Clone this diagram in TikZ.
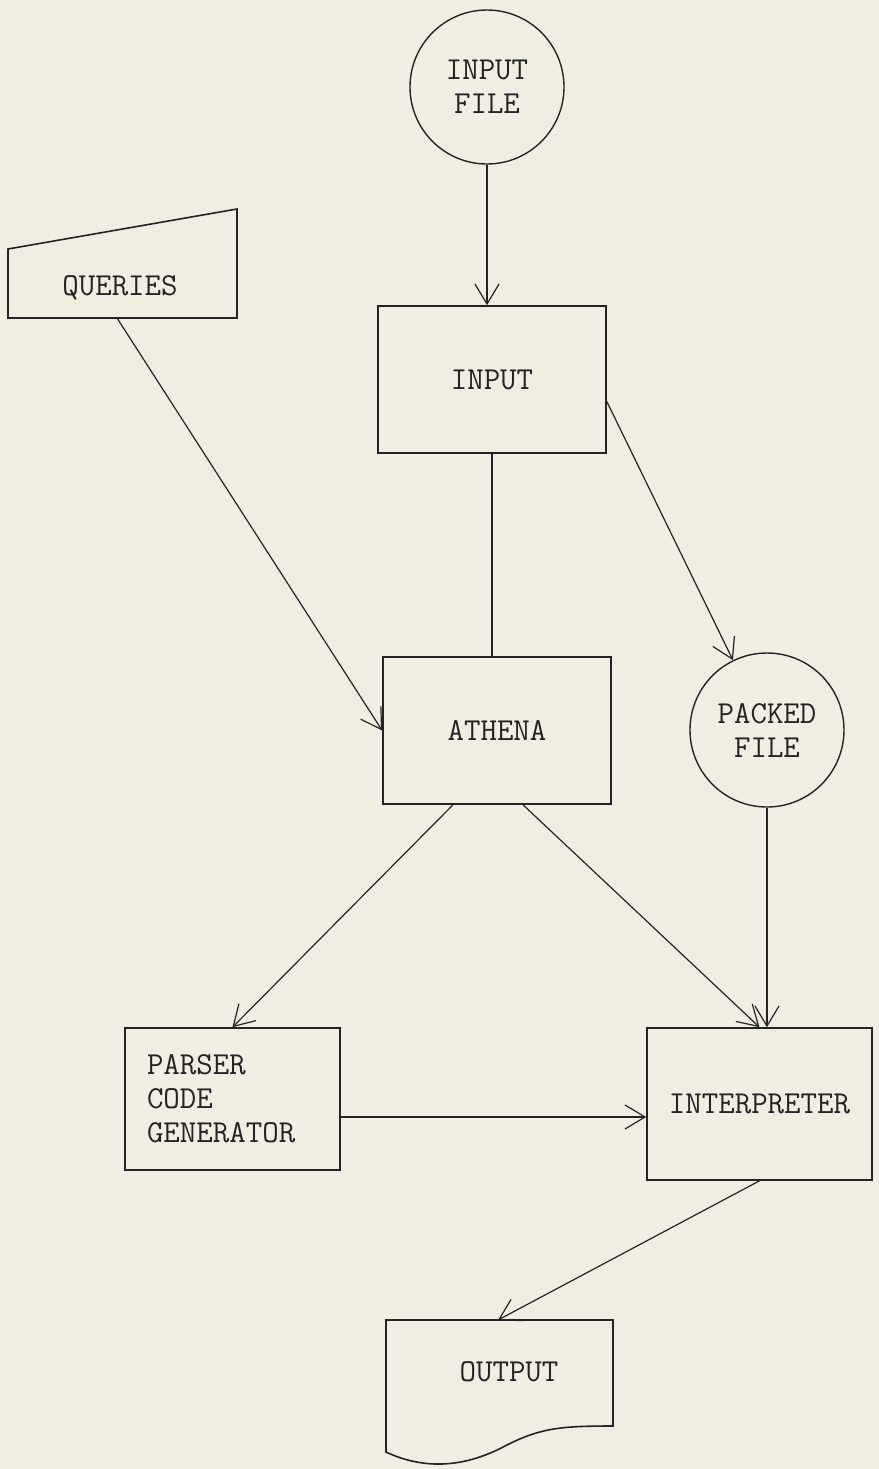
\documentclass[tikz,border=0pt]{standalone}
\usetikzlibrary{arrows.meta}
\definecolor{paper}{RGB}{240,238,225}
\definecolor{ink}{RGB}{35,35,35}
\begin{document}
\begin{tikzpicture}[x=0.5pt, y=-0.5pt,
    txt/.style={font=\fontsize{16}{17}\selectfont\ttfamily, text=ink},
    box/.style={txt, draw=ink, line width=0.8pt, inner sep=0pt},
    disk/.style={txt, draw=ink, circle, line width=0.7pt, minimum size=77pt, align=center, inner sep=0pt},
    arr/.style={draw=ink, -{Straight Barb[length=10pt, width=12pt]}, line width=0.6pt}]
      \fill[paper] (0,0) rectangle (879,1469);
      \useasboundingbox (0,0) rectangle (879,1469);
      % files
      \node[disk] (infile) at (487, 87) {INPUT\\FILE};
      \node[disk] (packed) at (767, 730) {PACKED\\FILE};
      % boxes
      \node[box, minimum width=114pt, minimum height=73.5pt] (input) at (492, 379.5) {INPUT};
      \node[box, minimum width=114pt, minimum height=73.5pt] (athena) at (497, 730.5) {ATHENA};
      \node[box, minimum width=107.5pt, minimum height=71pt, align=left, text width=85.5pt, inner xsep=11pt] (parser) at (232.5, 1099) {PARSER\\CODE\\GENERATOR};
      \node[box, minimum width=112.5pt, minimum height=76pt] (interp) at (759.5, 1104) {INTERPRETER};
      % queries and output
      \draw[ink, line width=0.8pt] (8, 249) -- (237, 209) -- (237, 318) -- (8, 318) -- cycle;
      \node[txt] (queries) at (120, 288) {QUERIES};
      \coordinate (qb) at (117, 318);
      \draw[ink, line width=0.8pt] (386, 1320) -- (613, 1320) -- (613, 1426)
          .. controls (560, 1426) and (540, 1428) .. (505, 1446)
          .. controls (460, 1470) and (420, 1468) .. (386, 1452) -- cycle;
      \node[txt] (output) at (509, 1372) {OUTPUT};
      \coordinate (outtop) at (498, 1320);
      % connectors
      \draw[arr] (infile.south) -- (infile.south |- input.north);
      \draw[draw=ink, line width=0.6pt] (input.south) -- (input.south |- athena.north);
      \draw[arr] (qb) -- (athena.west);
      \draw[arr] ([yshift=-11pt]input.east) -- (packed);
      \draw[arr] ([xshift=-22pt]athena.south) -- (parser.north);
      \draw[arr] ([xshift=13pt]athena.south) -- (interp.north);
      \draw[arr] (packed.south) -- (packed.south |- interp.north);
      \coordinate (pe) at ([yshift=-9pt]parser.east);
      \draw[arr] (pe) -- (pe -| interp.west);
      \draw[arr] (interp.south) -- (outtop);
\end{tikzpicture}
\end{document}
